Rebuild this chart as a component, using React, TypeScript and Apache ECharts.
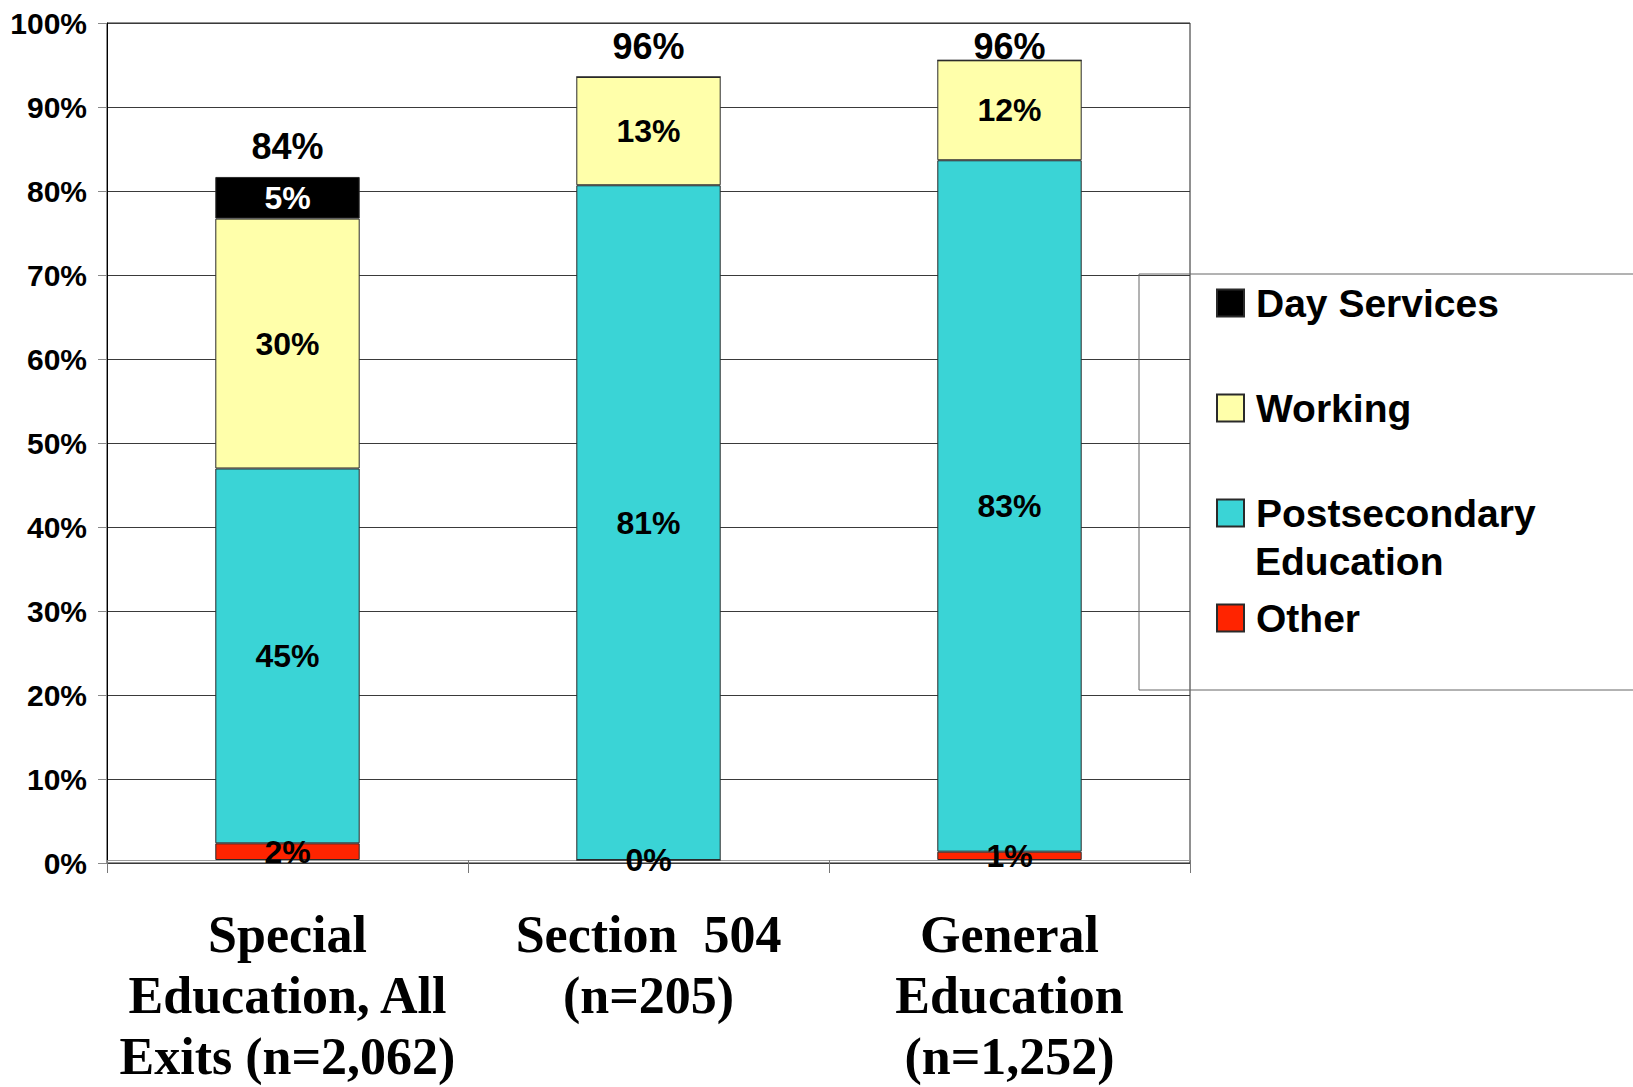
import React, { useEffect, useRef } from "react";
import * as echarts from "echarts";

const categories = [
  "Special\nEducation, All\nExits (n=2,062)",
  "Section  504\n(n=205)",
  "General\nEducation\n(n=1,252)",
];
const otherValues = [2, 0, 1];
const postsecondaryValues = [45, 81, 83];
const workingValues = [30, 13, 12];
const dayServicesValues = [5, 0, 0];
const totalLabels = [84, 96, 96];
const legendNames = ["Day Services", "Working", "Postsecondary Education", "Other"];

const SANS = '"Liberation Sans", Arial, sans-serif';
const SERIF = '"Liberation Serif", "Times New Roman", serif';

export default function App() {
  const ref = useRef<HTMLDivElement>(null);
  useEffect(() => {
    if (!ref.current) return;
    const chart = echarts.init(ref.current, undefined, { renderer: "svg" });
    const segLabel = (color: string, hideZero: boolean) => ({
      show: true,
      position: "inside",
      color,
      textBorderWidth: 0,
      fontFamily: SANS,
      fontWeight: "bold",
      fontSize: 32,
      formatter: (p: any) => (hideZero && p.value === 0 ? "" : `${p.value}%`),
    });
    const border = { borderColor: "#2a2a2a", borderWidth: 1 };
    chart.setOption({
      animation: false,
      backgroundColor: "#ffffff",
      grid: [
        { left: 107, right: 443, top: 23, bottom: 224, show: true, borderColor: "#222", borderWidth: 1 },
        { left: 107, right: 443, top: 27, bottom: 220 },
      ],
      xAxis: [
        { gridIndex: 0, type: "category", data: categories, show: false },
        {
          gridIndex: 1,
          type: "category",
          data: categories,
          axisLine: { show: true, lineStyle: { color: "#9a9a9a", width: 1 } },
          axisTick: { show: true, length: 13, lineStyle: { color: "#777" } },
          axisLabel: {
            color: "#000",
            fontFamily: SERIF,
            fontWeight: "bold",
            fontSize: 52,
            lineHeight: 61,
            margin: 44,
            interval: 0,
          },
        },
      ],
      yAxis: [
        {
          gridIndex: 0,
          type: "value",
          min: 0,
          max: 100,
          interval: 10,
          axisLine: { show: true, lineStyle: { color: "#000", width: 1 } },
          axisTick: { show: true, length: 9, lineStyle: { color: "#888" } },
          axisLabel: {
            formatter: "{value}%",
            color: "#000",
            fontFamily: SANS,
            fontWeight: "bold",
            fontSize: 30,
            margin: 20,
          },
          splitLine: { show: true, lineStyle: { color: "#3a3a3a", width: 1 } },
        },
        { gridIndex: 1, type: "value", min: 0, max: 100, show: false, splitLine: { show: false } },
      ],
      legend: {
        orient: "vertical",
        left: 1139,
        top: 274,
        padding: [7, 220, 50, 77],
        itemGap: 61,
        itemWidth: 27,
        itemHeight: 27,
        icon: "rect",
        borderColor: "#666",
        borderWidth: 1,
        data: legendNames,
        formatter: (name: string) => (name === "Postsecondary Education" ? "Postsecondary" : name),
        textStyle: {
          color: "#000",
          fontFamily: SANS,
          fontWeight: "bold",
          fontSize: 39,
          lineHeight: 44,
          padding: [0, 0, 0, 7],
        },
      },
      graphic: [
        {
          type: "text",
          x: 1255,
          y: 561,
          style: {
            text: "Education",
            fill: "#000",
            font: `bold 39px ${SANS}`,
            verticalAlign: "middle",
          },
        },
      ],
      series: [
        {
          name: "Other",
          type: "bar",
          stack: "total",
          xAxisIndex: 1,
          yAxisIndex: 1,
          barWidth: "40%",
          data: otherValues,
          itemStyle: { color: "#ff2400", ...border },
          label: segLabel("#000", false),
        },
        {
          name: "Postsecondary Education",
          type: "bar",
          stack: "total",
          xAxisIndex: 1,
          yAxisIndex: 1,
          barWidth: "40%",
          data: postsecondaryValues,
          itemStyle: { color: "#3ad4d6", ...border },
          label: segLabel("#000", true),
        },
        {
          name: "Working",
          type: "bar",
          stack: "total",
          xAxisIndex: 1,
          yAxisIndex: 1,
          barWidth: "40%",
          data: workingValues,
          itemStyle: { color: "#ffffaa", ...border },
          label: segLabel("#000", true),
        },
        {
          name: "Day Services",
          type: "bar",
          stack: "total",
          xAxisIndex: 1,
          yAxisIndex: 1,
          barWidth: "40%",
          data: dayServicesValues,
          itemStyle: { color: "#000000", ...border },
          label: segLabel("#ffffff", true),
        },
        {
          name: "Total",
          type: "scatter",
          xAxisIndex: 1,
          yAxisIndex: 1,
          data: totalLabels,
          symbolSize: 1,
          silent: true,
          itemStyle: { color: "rgba(255,255,255,0)" },
          label: {
            show: true,
            position: "top",
            distance: -5,
            color: "#000",
            opacity: 1,
            fontFamily: SANS,
            fontWeight: "bold",
            fontSize: 36,
            formatter: (p: any) => `${p.value}%`,
          },
        },
      ],
    });
    return () => chart.dispose();
  }, []);
  return (
    <div
      ref={ref}
      style={{ position: "absolute", left: 0, top: 0, width: 1633, height: 1087 }}
    />
  );
}
